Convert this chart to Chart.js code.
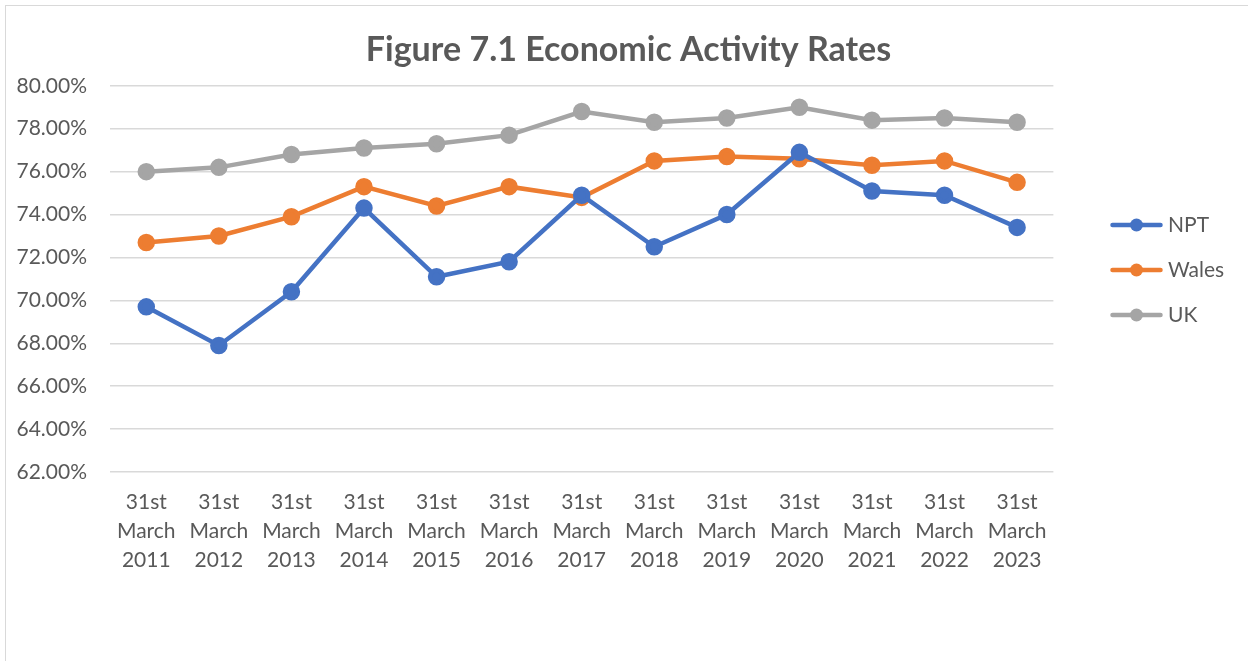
<!DOCTYPE html>
<html>
<head>
<meta charset="utf-8">
<script src="https://cdn.jsdelivr.net/npm/chart.js@4"></script>
<style>
  html, body { margin: 0; padding: 0; background: #fff; overflow: hidden; }
  .frame { position: absolute; left: 5px; top: 5px; width: 2000px; height: 2000px; border: 1.5px solid #d9d9d9; }
  .content { position: absolute; left: 0; top: 0; width: 1248px; height: 661px; }
</style>
</head>
<body>
<div class="frame"></div>
<div class="content"><canvas id="myChart" width="1248" height="661"></canvas></div>
<script>
const years = ["2011", "2012", "2013", "2014", "2015", "2016", "2017", "2018", "2019", "2020", "2021", "2022", "2023"];
const npt = [69.7, 67.9, 70.4, 74.3, 71.1, 71.8, 74.9, 72.5, 74.0, 76.9, 75.1, 74.9, 73.4];
const wales = [72.7, 73.0, 73.9, 75.3, 74.4, 75.3, 74.8, 76.5, 76.7, 76.6, 76.3, 76.5, 75.5];
const uk = [76.0, 76.2, 76.8, 77.1, 77.3, 77.7, 78.8, 78.3, 78.5, 79.0, 78.4, 78.5, 78.3];
const yMin = 62;
const yMax = 80;
const yStep = 2;

const labels = years.map((y) => ["31st", "March", y]);
const textColor = "#595959";
const fontFamily = "Lato, 'Open Sans', sans-serif";

// legend marker: short line with a dot in the middle
function legendMarker(color) {
  const c = document.createElement("canvas");
  c.width = 53;
  c.height = 14;
  const g = c.getContext("2d");
  g.strokeStyle = color;
  g.lineWidth = 4.5;
  g.lineCap = "round";
  g.beginPath();
  g.moveTo(2.5, 7);
  g.lineTo(50.5, 7);
  g.stroke();
  g.fillStyle = color;
  g.beginPath();
  g.arc(26.5, 7, 6.5, 0, Math.PI * 2);
  g.fill();
  return c;
}

function series(label, data, color) {
  return {
    label: label,
    data: data,
    borderColor: color,
    backgroundColor: color,
    pointBackgroundColor: color,
    pointBorderColor: color,
    borderWidth: 4.5,
    pointRadius: 6.5,
    pointHoverRadius: 6.5,
    tension: 0,
    marker: legendMarker(color),
  };
}

// legend: reserve a wider column on the right, then put it where Excel had it
const legendPlace = {
  id: "legendPlace",
  beforeLayout(chart) {
    const l = chart.legend;
    if (l && !l._wide) {
      const fit = l.fit.bind(l);
      l.fit = () => {
        fit();
        l.width += 44;
      };
      l._wide = true;
    }
  },
  afterLayout(chart) {
    const l = chart.legend;
    const w = l.width;
    const h = l.height;
    l.left = 1091.5;
    l.right = l.left + w;
    l.top = 190.5;
    l.bottom = l.top + h;
  },
};

Chart.defaults.font.family = fontFamily;
Chart.defaults.color = textColor;

var ctx = document.getElementById("myChart").getContext("2d");
var myChart = new Chart(ctx, {
  type: "line",
  data: {
    labels: labels,
    datasets: [
      series("NPT", npt, "#4472C4"),
      series("Wales", wales, "#ED7D31"),
      series("UK", uk, "#A5A5A5"),
    ],
  },
  options: {
    responsive: false,
    animation: false,
    layout: {
      padding: { left: 17, right: 8, top: 0, bottom: 70 },
    },
    plugins: {
      title: {
        display: true,
        text: "Figure 7.1 Economic Activity Rates",
        color: textColor,
        font: { size: 34, weight: "bold", family: fontFamily },
        padding: { top: 30, bottom: 15 },
      },
      legend: {
        position: "right",
        align: "start",
        fullSize: false,
        labels: {
          usePointStyle: true,
          pointStyleWidth: 42,
          padding: 24,
          color: textColor,
          font: { size: 21, family: fontFamily },
          generateLabels(chart) {
            return chart.data.datasets.map((ds, i) => ({
              text: ds.label,
              fillStyle: ds.borderColor,
              strokeStyle: ds.borderColor,
              lineWidth: 0,
              pointStyle: ds.marker,
              fontColor: textColor,
              datasetIndex: i,
              hidden: false,
            }));
          },
        },
      },
      tooltip: { enabled: false },
    },
    scales: {
      x: {
        offset: true,
        grid: { display: false, drawTicks: false },
        border: { display: false },
        ticks: {
          autoSkip: false,
          maxRotation: 0,
          padding: 16,
          color: textColor,
          font: { size: 21, lineHeight: 1.38 },
        },
      },
      y: {
        min: yMin,
        max: yMax,
        grid: { color: "#d9d9d9", lineWidth: 1.5, drawTicks: false },
        border: { display: false },
        ticks: {
          stepSize: yStep,
          padding: 23,
          color: textColor,
          font: { size: 21 },
          callback: (v) => v.toFixed(2) + "%",
        },
        afterFit(scale) {
          scale.width = 93;
        },
      },
    },
  },
  plugins: [legendPlace],
});
</script>
</body>
</html>
